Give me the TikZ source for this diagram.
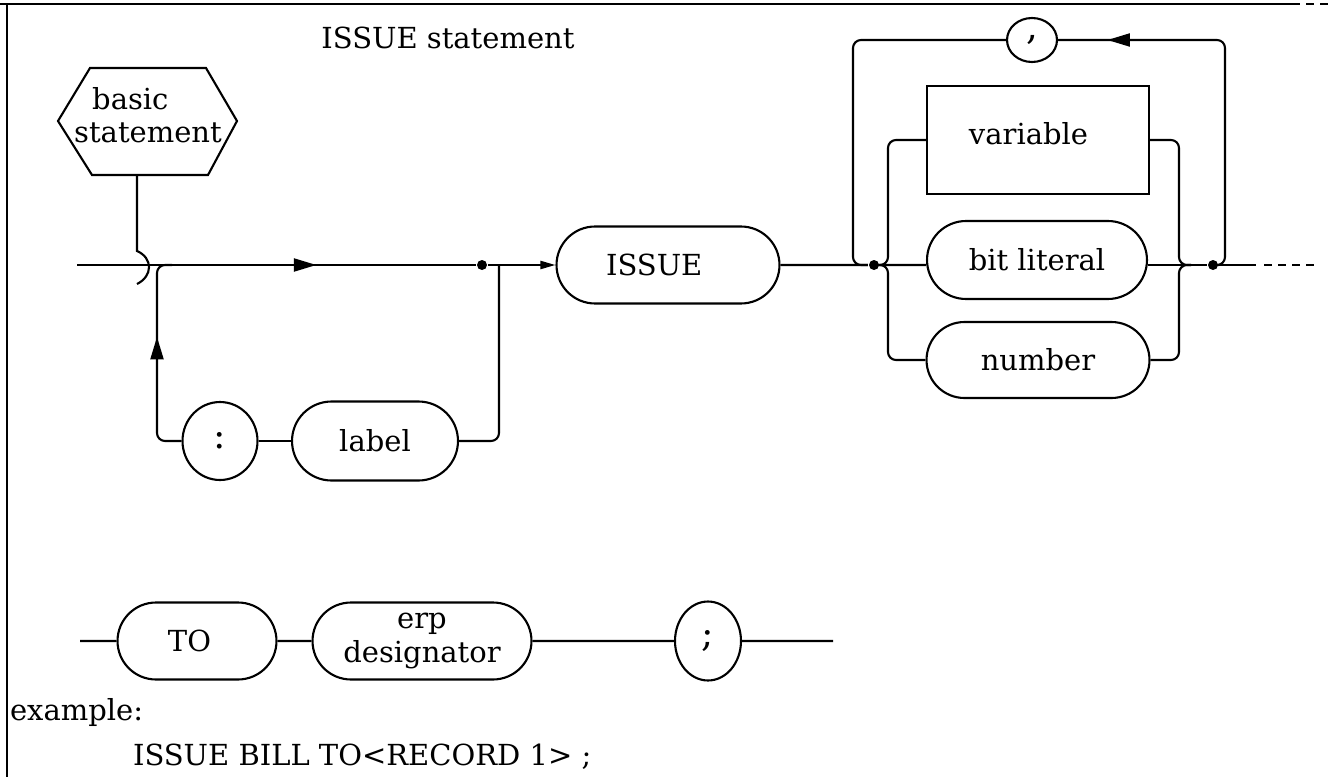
\documentclass[tikz,border=0pt]{standalone}
\usepackage{fontspec}
\setmainfont{DejaVu Serif}
\usetikzlibrary{shapes.geometric,shapes.misc,arrows.meta,decorations.markings}

\begin{document}
\begin{tikzpicture}[x=0.02cm,y=-0.02cm,line width=1.2pt,
  every node/.style={font=\fontsize{16.5}{19}\selectfont},
  term/.style={draw,rounded rectangle,minimum height=1.54cm,inner sep=0pt},
  oval/.style={draw,ellipse,inner sep=0pt,font=\fontsize{21}{24}\selectfont},
  box/.style={draw,rectangle,inner sep=0pt},
  dot/.style={circle,fill,inner sep=0pt,minimum size=0.2cm},
  arrowat/.style={postaction={decorate},decoration={markings,
    mark=at position #1 with {\arrow{Triangle[length=0.45cm,width=0.26cm]}}}}]
\useasboundingbox (0,0) rectangle (1328,777);
% frame
\draw (0,4) -- (1292,4);
\draw[dash pattern=on 0.16cm off 0.12cm] (1292,4) -- (1328,4);
\draw (7,4) -- (7,777);
\node (title) at (448,38) {ISSUE statement};
% basic statement
\draw (58,121) -- (90,68) -- (206,68) -- (237,121) -- (208,175) -- (92,175) -- cycle;
\node[align=left] (basic) at (148,115) {\hspace*{0.36cm}basic\\statement};
\coordinate (hexbot) at (137,175);
\coordinate (join) at (137,251);
\draw (hexbot) -- (join) .. controls (153,258) and (153,276) .. (137,284);
% main line
\coordinate (start) at (77,265);
\node[dot] (d1) at (482,265) {};
\node[term,minimum width=4.46cm] (issue) at (668,265) {ISSUE\hspace*{0.55cm}};
\draw[arrowat=0.6] (start) -- (d1);
\draw[-{Triangle[length=0.3cm,width=0.16cm]}] (d1) -- (issue);
% label branch
\node[oval,minimum width=1.5cm,minimum height=1.56cm] (colon) at (220,441) {:};
\node[term,minimum width=3.32cm,minimum height=1.58cm] (lab) at (375,441) {label};
\draw (colon) -- (lab);
\draw[rounded corners=0.16cm,arrowat=0.6] (colon.west) -- (157,441) -- (157,265) -- (172,265);
\draw[rounded corners=0.16cm] (lab.east) -- (499,441) -- (499,265);
% choice block
\node[dot] (d2) at (874,265) {};
\node[box,minimum width=4.44cm,minimum height=2.16cm] (var) at (1038,140) {\raisebox{0.26cm}{variable}\hspace*{0.38cm}};
\node[term,minimum width=4.4cm,minimum height=1.56cm] (bit) at (1037,260) {bit literal};
\node[term,minimum width=4.46cm,minimum height=1.52cm] (num) at (1038,360) {number};
\node[dot] (d3) at (1213,265) {};
\node[oval,minimum width=1.0cm,minimum height=0.88cm] (comma) at (1032,40) {,};
\coordinate (end) at (1256,265);
\coordinate (tail) at (1318,265);
\draw (issue) -- (d2) -- (d2 -| bit.west);
\draw (d3 -| bit.east) -- (d3) -- (end);
\draw[dash pattern=on 0.16cm off 0.12cm] ([xshift=0.16cm]end) -- (tail);
\draw[rounded corners=0.16cm] (var.west) -- (888,140) -- (888,265) -- (876,265);
\draw[rounded corners=0.16cm] (num.west) -- (888,360) -- (888,265) -- (876,265);
\draw[rounded corners=0.16cm] (var.east) -- (1179,140) -- (1179,265) -- (1191,265);
\draw[rounded corners=0.16cm] (num.east) -- (1179,360) -- (1179,265) -- (1191,265);
% repeat loop
\draw[rounded corners=0.16cm,arrowat=0.875] (d3) -- (1225,265) -- (1225,40) -- (comma.east);
\draw[rounded corners=0.16cm] (comma.west) -- (853,40) -- (853,265) -- (d2);
% second row
\coordinate (b0) at (80,641);
\node[term,minimum width=3.18cm] (tokw) at (197,641) {TO\hspace*{0.3cm}};
\node[term,minimum width=4.38cm,align=center] (erp) at (422,641) {erp\\designator};
\node[oval,minimum width=1.32cm,minimum height=1.58cm] (semi) at (708,641) {;};
\coordinate (b1) at (833,641);
\draw (b0) -- (tokw) -- (erp) -- (semi) -- (b1);
% example
\node[anchor=west,inner sep=0pt] (ex) at (9,712) {example:};
\node[anchor=west,inner sep=0pt] (exline) at (132,757) {ISSUE BILL TO<RECORD 1> ;};
\end{tikzpicture}
\end{document}
